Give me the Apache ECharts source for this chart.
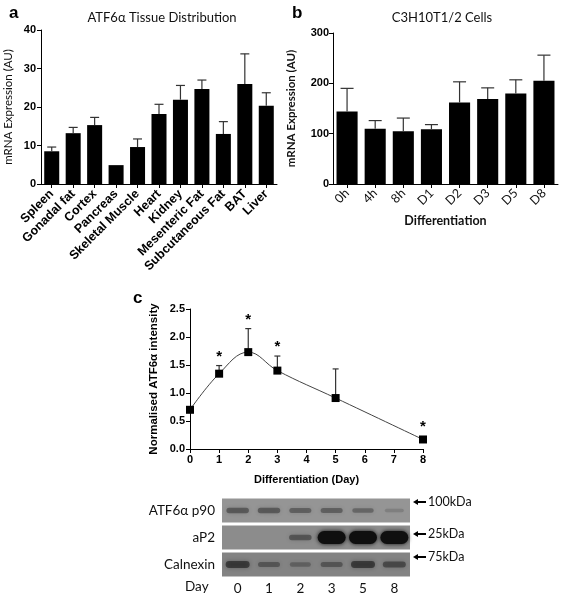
<!DOCTYPE html>
<html><head><meta charset="utf-8">
<script src="https://cdn.jsdelivr.net/npm/echarts@6/dist/echarts.min.js"></script>
<style>html,body{margin:0;padding:0;background:#fff}#c{width:565px;height:598px}</style>
</head><body><div id="c"></div>
<script>
// ---- Panel a data ----
const tissues = ['Spleen','Gonadal fat','Cortex','Pancreas','Skeletal Muscle','Heart','Kidney','Mesenteric Fat','Subcutaneous Fat','BAT','Liver'];
const tissueValues = [8.5, 13.2, 15.3, 4.9, 9.6, 18.2, 21.9, 24.7, 13.0, 26.0, 20.3];
const tissueErrors = [1.1, 1.5, 2.0, 0, 2.1, 2.5, 3.7, 2.3, 3.2, 7.8, 3.4];
const tissueTicks = [0, 10, 20, 30, 40];

// ---- Panel b data ----
const cellTimes = ['0h','4h','8h','D1','D2','D3','D5','D8'];
const cellValues = [144, 110, 105, 109, 162, 169, 180, 205];
const cellErrors = [46, 16, 26, 9, 41, 22, 27, 51];
const cellTicks = [0, 100, 200, 300];

// ---- Panel c data ----
const days = [0, 1, 2, 3, 5, 8];
const intensity = [0.70, 1.345, 1.73, 1.40, 0.91, 0.17];
const intensityErrors = [0, 0.145, 0.42, 0.26, 0.52, 0];
const significantDays = [1, 2, 3, 8];

// ---- Western blot data (relative band strength 0..1) ----
const blotRows = ['ATF6α p90', 'aP2', 'Calnexin'];
const blotLanes = ['0', '1', '2', '3', '5', '8'];
const atf6Bands = [0.45, 0.45, 0.4, 0.4, 0.35, 0.1];
const ap2Bands = [0, 0, 0.45, 1, 1, 1];
const calnexinBands = [0.6, 0.4, 0.3, 0.4, 0.6, 0.5];
const markerLabels = ['100kDa', '25kDa', '75kDa'];

const AX = {lineStyle: {color: '#000', width: 1}};
const TICK = {show: true, length: 4, lineStyle: {color: '#000'}};
const boldTick = {color: '#000', fontFamily: 'Liberation Sans, Arial', fontWeight: 'bold', fontSize: 11};

function errRender(capPx) {
  return function (params, api) {
    const x = api.value(0), v = api.value(1), e = api.value(2);
    if (!e) return null;
    const p0 = api.coord([x, v]);
    const p1 = api.coord([x, v + e]);
    const st = {stroke: '#333', lineWidth: 1.2};
    return {type: 'group', children: [
      {type: 'line', shape: {x1: p0[0], y1: p0[1], x2: p1[0], y2: p1[1]}, style: st},
      {type: 'line', shape: {x1: p1[0] - capPx / 2, y1: p1[1], x2: p1[0] + capPx / 2, y2: p1[1]}, style: st}
    ]};
  };
}

const sigData = significantDays.map(d => {
  const i = days.indexOf(d);
  return [d, intensity[i], intensityErrors[i]];
});

const bandData = [];
[atf6Bands, ap2Bands, calnexinBands].forEach((row, r) => {
  row.forEach((v, l) => bandData.push([l, r, v]));
});

const option = {
  animation: false,
  backgroundColor: '#fff',
  title: [
    {text: 'a', left: 4, top: 0, textStyle: {fontFamily: 'Liberation Sans, Arial', fontWeight: 'bold', fontSize: 17, color: '#000'}},
    {text: 'ATF6α Tissue Distribution', left: 157, top: 6, textAlign: 'center', textStyle: {fontFamily: 'Lato', fontWeight: 'normal', fontSize: 13, color: '#111'}},
    {text: 'b', left: 287, top: 0, textStyle: {fontFamily: 'Liberation Sans, Arial', fontWeight: 'bold', fontSize: 17, color: '#000'}},
    {text: 'C3H10T1/2 Cells', left: 437, top: 6, textAlign: 'center', textStyle: {fontFamily: 'Lato', fontWeight: 'normal', fontSize: 13, color: '#111'}},
    {text: 'c', left: 128, top: 285, textStyle: {fontFamily: 'Liberation Sans, Arial', fontWeight: 'bold', fontSize: 17, color: '#000'}}
  ],
  grid: [
    {left: 41, top: 30, width: 236, height: 154},
    {left: 333, top: 33, width: 225, height: 151},
    {left: 190, top: 309, width: 233, height: 140},
    {left: 222, top: 497, width: 188, height: 81}
  ],
  xAxis: [
    {gridIndex: 0, type: 'category', data: tissues, axisLine: AX, axisTick: Object.assign({alignWithLabel: true}, TICK),
      axisLabel: {interval: 0, rotate: 45, margin: 8, color: '#000', fontFamily: 'Liberation Sans, Arial', fontWeight: 'bold', fontSize: 12.5}},
    {gridIndex: 1, type: 'category', data: cellTimes, axisLine: AX, axisTick: Object.assign({alignWithLabel: true}, TICK),
      axisLabel: {interval: 0, rotate: 45, margin: 7, color: '#111', fontFamily: 'Lato', fontSize: 12.5},
      name: 'Differentiation', nameLocation: 'middle', nameGap: 30,
      nameTextStyle: {fontFamily: 'Lato', fontWeight: 'bold', fontSize: 12.5, color: '#111'}},
    {gridIndex: 2, type: 'value', min: 0, max: 8, interval: 1, axisLine: AX, axisTick: TICK, splitLine: {show: false},
      axisLabel: Object.assign({margin: 5}, boldTick),
      name: 'Differentiation (Day)', nameLocation: 'middle', nameGap: 25,
      nameTextStyle: {fontFamily: 'Liberation Sans, Arial', fontWeight: 'bold', fontSize: 11, color: '#000'}},
    {gridIndex: 3, type: 'category', data: blotLanes, axisLine: {show: false}, axisTick: {show: false},
      axisLabel: {margin: 4, color: '#111', fontFamily: 'Lato', fontSize: 13.5}}
  ],
  yAxis: [
    {gridIndex: 0, type: 'value', min: 0, max: 40, interval: 10, axisLine: {show: true, lineStyle: AX.lineStyle}, axisTick: TICK, splitLine: {show: false},
      axisLabel: Object.assign({margin: 5}, boldTick),
      name: 'mRNA Expression (AU)', nameLocation: 'middle', nameGap: 27,
      nameTextStyle: {fontFamily: 'Lato', fontSize: 11.5, color: '#111'}},
    {gridIndex: 1, type: 'value', min: 0, max: 300, interval: 100, axisLine: {show: true, lineStyle: AX.lineStyle}, axisTick: TICK, splitLine: {show: false},
      axisLabel: Object.assign({margin: 4}, boldTick),
      name: 'mRNA Expression (AU)', nameLocation: 'middle', nameGap: 36,
      nameTextStyle: {fontFamily: 'Lato', fontWeight: 'bold', fontSize: 11.5, color: '#111'}},
    {gridIndex: 2, type: 'value', min: 0, max: 2.5, interval: 0.5, axisLine: {show: true, lineStyle: AX.lineStyle}, axisTick: TICK, splitLine: {show: false},
      axisLabel: Object.assign({margin: 5, formatter: v => v.toFixed(1)}, boldTick),
      name: 'Normalised ATF6α intensity', nameLocation: 'middle', nameGap: 30,
      nameTextStyle: {fontFamily: 'Liberation Sans, Arial', fontWeight: 'bold', fontSize: 11.5, color: '#000'}},
    {gridIndex: 3, type: 'category', data: blotRows, inverse: true, axisLine: {show: false}, axisTick: {show: false},
      axisLabel: {margin: 7, color: '#111', fontFamily: 'Lato', fontSize: 13.5}}
  ],
  series: [
    {type: 'bar', xAxisIndex: 0, yAxisIndex: 0, data: tissueValues, barWidth: '70%', itemStyle: {color: '#000'}},
    {type: 'custom', xAxisIndex: 0, yAxisIndex: 0, z: 5, renderItem: errRender(9),
      data: tissueValues.map((v, i) => [i, v, tissueErrors[i]])},
    {type: 'bar', xAxisIndex: 1, yAxisIndex: 1, data: cellValues, barWidth: '75%', itemStyle: {color: '#000'}},
    {type: 'custom', xAxisIndex: 1, yAxisIndex: 1, z: 5, renderItem: errRender(13),
      data: cellValues.map((v, i) => [i, v, cellErrors[i]])},
    {type: 'custom', xAxisIndex: 2, yAxisIndex: 2, z: 1, renderItem: errRender(6),
      data: days.map((d, i) => [d, intensity[i], intensityErrors[i]])},
    {type: 'line', xAxisIndex: 2, yAxisIndex: 2, z: 3, smooth: 0.4, data: days.map((d, i) => [d, intensity[i]]),
      symbol: 'rect', symbolSize: 8, lineStyle: {color: '#444', width: 1}, itemStyle: {color: '#000'}},
    {type: 'custom', xAxisIndex: 2, yAxisIndex: 2, z: 6, data: sigData,
      renderItem: function (params, api) {
        const top = api.value(1) + api.value(2);
        const p = api.coord([api.value(0), top]);
        const yTop = api.value(2) ? p[1] : p[1] - 4;
        return {type: 'text', x: p[0], y: yTop - 9,
          style: {text: '*', fill: '#000', font: 'bold 15px "Liberation Sans", Arial', align: 'center', verticalAlign: 'middle'}};
      }},
    // blot row backgrounds
    {type: 'custom', xAxisIndex: 3, yAxisIndex: 3, z: 1, data: blotRows.map((r, i) => [0, i]),
      renderItem: function (params, api) {
        const cs = params.coordSys;
        const c = api.coord([0, api.value(1)]);
        const h = api.size([0, 1])[1];
        const shades = ['#959595', '#8c8c8c', '#838383'];
        return {type: 'rect', shape: {x: cs.x, y: c[1] - h / 2 + 1.5, width: cs.width, height: h - 3},
          style: {fill: shades[api.value(1)]}};
      }},
    // blot bands
    {type: 'custom', xAxisIndex: 3, yAxisIndex: 3, z: 2, data: bandData,
      renderItem: function (params, api) {
        const s = api.value(2);
        if (!s) return null;
        const c = api.coord([api.value(0), api.value(1)]);
        const w = 18 + 10 * s, h = 3.5 + 9.5 * s * s;
        const a = Math.min(1, 0.12 + 0.9 * Math.pow(s, 1.5));
        const col = 'rgba(15,15,15,' + a.toFixed(2) + ')';
        return {type: 'rect', shape: {x: c[0] - w / 2, y: c[1] - h / 2, width: w, height: h, r: h / 2},
          style: {fill: col, shadowBlur: 4, shadowColor: col}};
      }}
  ],
  graphic: [
    {type: 'text', left: 185, top: 580, style: {text: 'Day', fill: '#111', font: '13.5px Lato'}}
  ].concat(markerLabels.map((t, i) => {
    const ys = [502, 534, 557];
    return {type: 'group', x: 413, y: ys[i], children: [
      {type: 'polygon', shape: {points: [[0, 0], [5, -3], [5, 3]]}, style: {fill: '#000'}},
      {type: 'line', shape: {x1: 4, y1: 0, x2: 13, y2: 0}, style: {stroke: '#000', lineWidth: 2}},
      {type: 'text', x: 15, y: 0, style: {text: t, fill: '#111', font: '12.5px Lato', verticalAlign: 'middle'}}
    ]};
  }))
};

const chart = echarts.init(document.getElementById('c'), null, {renderer: 'canvas'});
chart.setOption(option);
</script></body></html>
